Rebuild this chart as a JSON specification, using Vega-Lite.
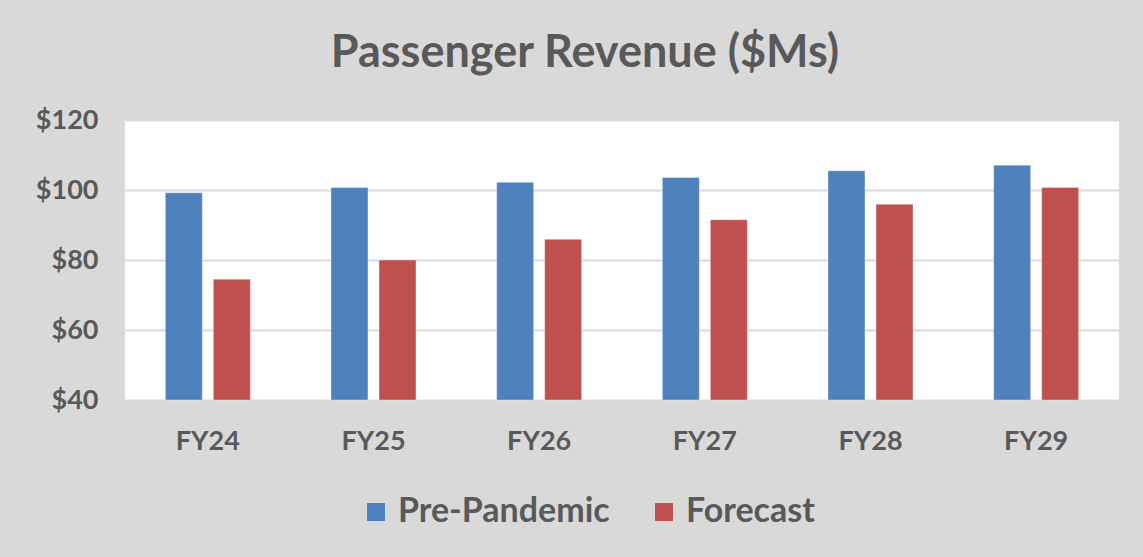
{
  "$schema": "https://vega.github.io/schema/vega-lite/v6.json",
  "autosize": {"type": "none"},
  "width": 994,
  "height": 280,
  "padding": {"left": 125, "top": 120, "right": 24, "bottom": 157},
  "background": "#d9d9d9",
  "title": {
    "text": "Passenger Revenue ($Ms)",
    "font": "Lato",
    "fontSize": 45,
    "fontWeight": "bold",
    "color": "#595959",
    "anchor": "middle",
    "frame": "group",
    "dx": -37,
    "offset": 30
  },
  "data": {
    "values": [
      {"year": "FY24", "series": "Pre-Pandemic", "value": 99.2},
      {"year": "FY24", "series": "Forecast", "value": 74.5},
      {"year": "FY25", "series": "Pre-Pandemic", "value": 100.7},
      {"year": "FY25", "series": "Forecast", "value": 80.0},
      {"year": "FY26", "series": "Pre-Pandemic", "value": 102.2},
      {"year": "FY26", "series": "Forecast", "value": 85.9},
      {"year": "FY27", "series": "Pre-Pandemic", "value": 103.6},
      {"year": "FY27", "series": "Forecast", "value": 91.5},
      {"year": "FY28", "series": "Pre-Pandemic", "value": 105.5},
      {"year": "FY28", "series": "Forecast", "value": 95.9},
      {"year": "FY29", "series": "Pre-Pandemic", "value": 107.1},
      {"year": "FY29", "series": "Forecast", "value": 100.7}
    ]
  },
  "mark": {"type": "bar", "stroke": "#ffffff", "strokeOpacity": 0.35, "strokeWidth": 1},
  "encoding": {
    "x": {
      "field": "year",
      "type": "nominal",
      "sort": ["FY24", "FY25", "FY26", "FY27", "FY28", "FY29"],
      "scale": {"paddingInner": 0.487, "paddingOuter": 0.2435},
      "axis": {
        "title": null,
        "labelAngle": 0,
        "labelFont": "Lato",
        "labelFontSize": 27,
        "labelFontWeight": "bold",
        "labelColor": "#595959",
        "ticks": false,
        "domain": false,
        "labelPadding": 28
      }
    },
    "xOffset": {
      "field": "series",
      "type": "nominal",
      "sort": ["Pre-Pandemic", "Forecast"],
      "scale": {"paddingInner": 0.23, "paddingOuter": 0}
    },
    "y": {
      "field": "value",
      "type": "quantitative",
      "scale": {"domain": [40, 120], "zero": false, "nice": false},
      "axis": {
        "title": null,
        "values": [40, 60, 80, 100, 120],
        "format": "$,.0f",
        "labelFont": "Lato",
        "labelFontSize": 27,
        "labelFontWeight": "bold",
        "labelColor": "#595959",
        "ticks": false,
        "domain": false,
        "labelPadding": 27,
        "grid": true,
        "gridColor": "#d9d9d9",
        "gridWidth": 2
      }
    },
    "y2": {"datum": 40},
    "color": {
      "field": "series",
      "type": "nominal",
      "sort": ["Pre-Pandemic", "Forecast"],
      "scale": {"domain": ["Pre-Pandemic", "Forecast"], "range": ["#4f81bd", "#c0504d"]},
      "legend": {
        "title": null,
        "orient": "none",
        "legendX": 234,
        "legendY": 375,
        "direction": "horizontal",
        "symbolType": "square",
        "symbolSize": 324,
        "symbolStrokeWidth": 0,
        "labelFont": "Lato",
        "labelFontSize": 34,
        "labelFontWeight": "bold",
        "labelColor": "#595959",
        "labelOffset": 5,
        "columnPadding": 37,
        "labelLimit": 400
      }
    }
  },
  "config": {
    "view": {"fill": "#ffffff", "stroke": null}
  }
}
